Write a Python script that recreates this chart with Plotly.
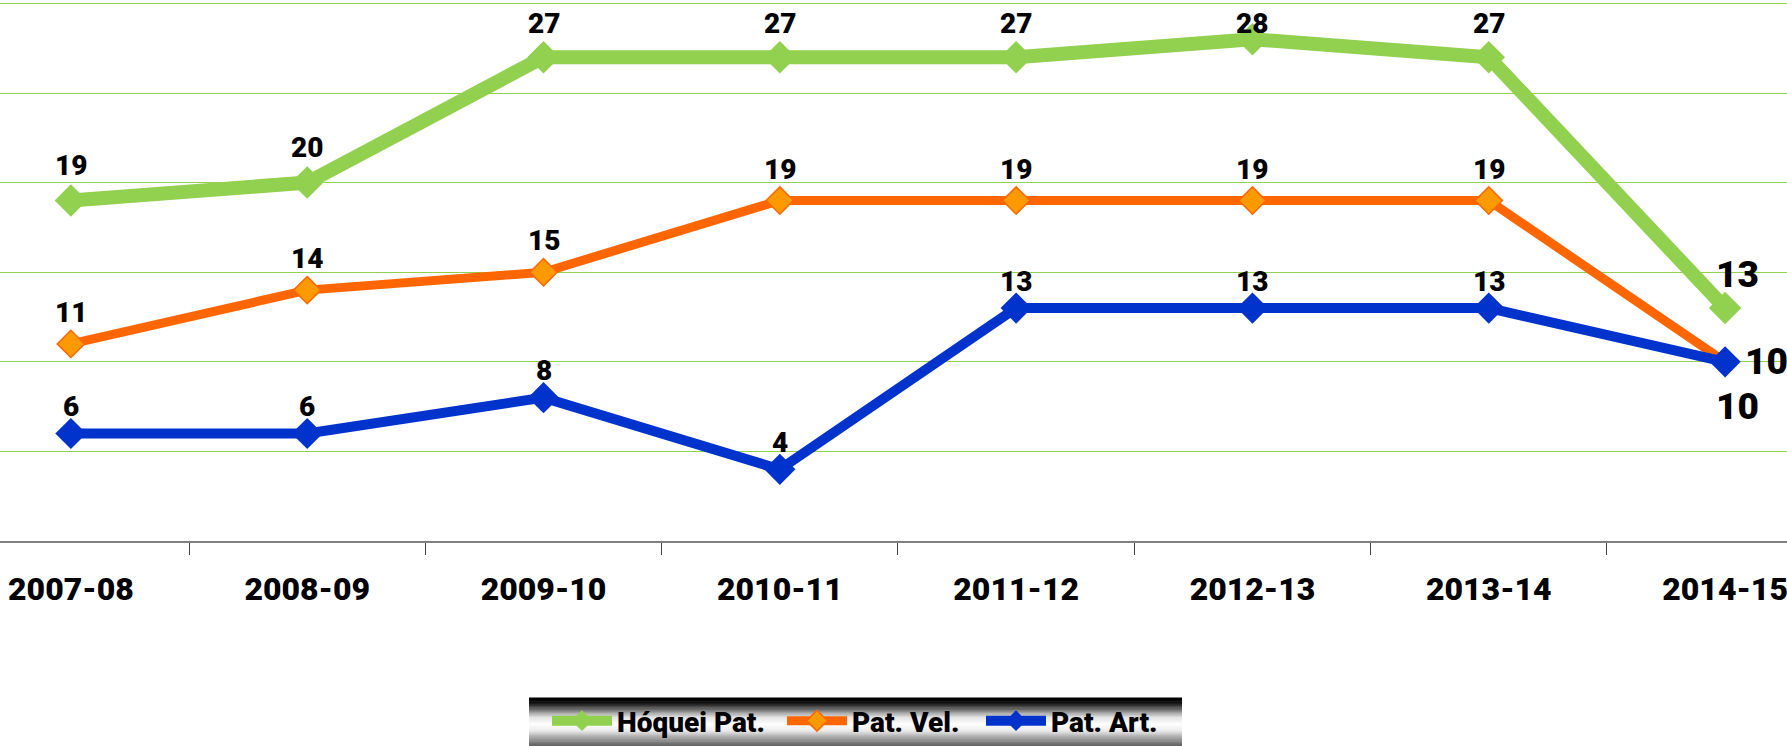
import plotly.graph_objects as go

seasons = ["2007-08", "2008-09", "2009-10", "2010-11", "2011-12", "2012-13", "2013-14", "2014-15"]
hoquei = [19, 20, 27, 27, 27, 28, 27, 13]
vel = [11, 14, 15, 19, 19, 19, 19, 10]
art = [6, 6, 8, 4, 13, 13, 13, 10]
names = ["Hóquei Pat.", "Pat. Vel.", "Pat. Art."]

FONT = "Roboto, Lato, DejaVu Sans Condensed, sans-serif"
WEIGHT = 900
W, H = 1787, 746
MB = 205
PH = H - MB

fig = go.Figure()

styles = [
    dict(color="#92D050", width=14, msize=25, mcolor="#92D050", mline="#92D050", mlw=0),
    dict(color="#FF6600", width=9, msize=21, mcolor="#FF9900", mline="#FF6600", mlw=1.5),
    dict(color="#0033CC", width=10, msize=24, mcolor="#0033CC", mline="#0033CC", mlw=0),
]
series = [hoquei, vel, art]
legend_ids = ["legend", "legend2", "legend3"]
legend_x = [547, 782, 981]  # left edge of each legend entry (px)

for name, vals, st, lid in zip(names, series, styles, legend_ids):
    fig.add_trace(go.Scatter(
        x=seasons, y=vals, name=name, mode="lines+markers",
        line=dict(color=st["color"], width=st["width"]),
        marker=dict(symbol="diamond", size=st["msize"], color=st["mcolor"],
                    line=dict(color=st["mline"], width=st["mlw"])),
        hoverinfo="skip", legend=lid,
    ))

# data labels
offsets = [1.95, 1.75, 1.5]  # data units above point
annotations = []
for vals, off in zip(series, offsets):
    for s, v in zip(seasons[:-1], vals[:-1]):
        annotations.append(dict(
            x=s, y=min(v + off, 28.9), text=str(v), showarrow=False,
            font=dict(family=FONT, size=28, color="black", weight=WEIGHT),
            xanchor="center", yanchor="middle",
        ))
# final-point labels (larger)
last_shift = [(12, 34), (41, 0), (12, -45)]
for vals, (xs, ys) in zip(series, last_shift):
    annotations.append(dict(
        x=seasons[-1], y=vals[-1], text=str(vals[-1]), showarrow=False,
        xshift=xs, yshift=ys,
        font=dict(family=FONT, size=37, color="black", weight=WEIGHT),
        xanchor="center", yanchor="middle",
    ))

# legend gradient background (metallic look)
lx0, lx1 = 529, 1182
ly0, ly1 = 697.5, 746
stops = [(0.0, 0), (0.10, 10), (0.25, 110), (0.40, 225), (0.55, 255), (0.68, 235), (0.82, 170), (1.0, 95)]
def gray_at(t):
    for (t0, g0), (t1, g1) in zip(stops[:-1], stops[1:]):
        if t0 <= t <= t1:
            return g0 + (g1 - g0) * (t - t0) / (t1 - t0)
    return stops[-1][1]
shapes = []
n = 40
for i in range(n):
    t = (i + 0.5) / n
    g = int(round(gray_at(t)))
    py0 = ly0 + (ly1 - ly0) * i / n
    py1 = ly0 + (ly1 - ly0) * (i + 1) / n + 0.6
    shapes.append(dict(
        type="rect", xref="paper", yref="paper",
        x0=lx0 / W, x1=lx1 / W,
        y0=(PH - py1) / PH, y1=(PH - py0) / PH,
        fillcolor=f"rgb({g},{g},{g})", line=dict(width=0), layer="below",
    ))

legend_common = dict(
    orientation="h", xanchor="left",
    y=(PH - 721.5) / PH, yanchor="middle",
    font=dict(family=FONT, size=28, color="black", weight=WEIGHT),
    bgcolor="rgba(0,0,0,0)", itemwidth=60, borderwidth=0,
)
layout_legends = {}
for lid, lxp in zip(legend_ids, legend_x):
    layout_legends[lid] = dict(legend_common, x=lxp / W)

fig.update_layout(
    width=W, height=H,
    margin=dict(l=0, r=0, t=0, b=MB),
    paper_bgcolor="white", plot_bgcolor="white",
    showlegend=True,
    annotations=annotations,
    shapes=shapes,
    xaxis=dict(
        type="category", range=[-0.300, 7.262],
        showgrid=False, showline=True, linecolor="#808080", linewidth=1.5,
        ticks="outside", tickson="boundaries", ticklen=12, tickcolor="#404040", tickwidth=1,
        tickfont=dict(family=FONT, size=32, color="black", weight=WEIGHT),
        ticklabelstandoff=19,
        fixedrange=True,
    ),
    yaxis=dict(
        range=[0, 30.19], dtick=5, showticklabels=False,
        showgrid=True, gridcolor="#92D050", gridwidth=1,
        zeroline=False, showline=False, fixedrange=True,
    ),
    **layout_legends,
)

fig.write_html(
    "out.html",
    config={"displayModeBar": False},
    post_script="document.body.style.margin='0';document.body.style.overflow='hidden';",
)
